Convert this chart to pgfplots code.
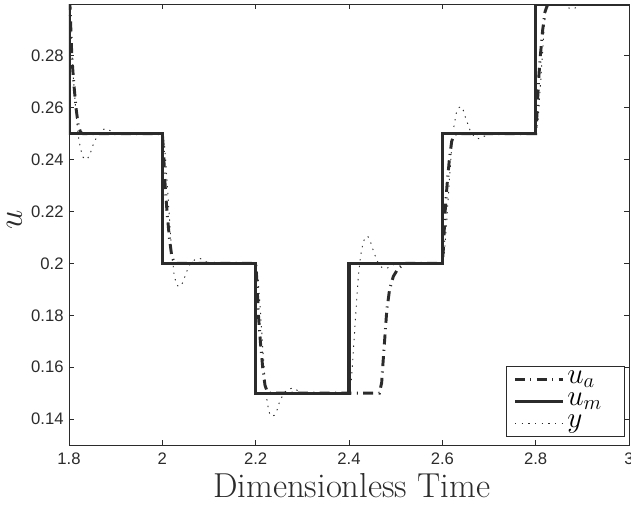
\RequirePackage{fix-cm}
\documentclass[border=0pt]{standalone}
\usepackage{fontspec}
\newfontfamily\ticksf{Liberation Sans}
\usepackage{pgfplots}
\pgfplotsset{compat=1.18}
\definecolor{lc}{HTML}{2B2B2B}
\newcommand{\lgf}{\fontsize{22}{22}\selectfont}
\begin{document}
\begin{tikzpicture}
\begin{axis}[
  scale only axis, width=420pt, height=330.75pt,
  xmin=1.8, xmax=3, ymin=0.13, ymax=0.30,
  xtick={1.8,2,2.2,2.4,2.6,2.8,3},
  xticklabels={1.8,2,2.2,2.4,2.6,2.8,3},
  ytick={0.14,0.16,0.18,0.2,0.22,0.24,0.26,0.28},
  yticklabels={0.14,0.16,0.18,0.2,0.22,0.24,0.26,0.28},
  tick align=inside, major tick length=4pt,
  axis line style={lc, line width=0.6pt},
  every tick/.style={lc, line width=0.6pt},
  ticklabel style={font=\ticksf\fontsize{12.5}{14}\selectfont, text=lc},
  xticklabel style={yshift=-2pt},
  yticklabel style={xshift=-0.5pt},
  xlabel={Dimensionless Time}, ylabel={$u$},
  label style={font=\fontsize{26}{30}\selectfont, text=lc},
  xlabel style={at={(axis description cs:0.505,0)}, anchor=base, yshift=-39pt},
  ylabel style={at={(axis description cs:0,0.51)}, anchor=center, yshift=41pt},
  legend style={at={(rel axis cs:1,0)}, anchor=south east, xshift=-3pt, yshift=6pt,
    draw=lc, line width=0.6pt, inner ysep=1.5pt, inner xsep=5pt,
    row sep=0pt, cells={anchor=west},
    nodes={inner xsep=2pt, inner ysep=1pt, text height=10pt, text depth=4.5pt}},
  legend image code/.code={\draw[#1] (0pt,0pt) -- (36pt,0pt);},
  clip=true,
]
\coordinate (SW) at (rel axis cs:0,0);
\coordinate (NE) at (rel axis cs:1,1);
% u_a (dash-dot)
\addplot[lc, line width=2.2pt, dash pattern=on 7.5pt off 4pt on 0.8pt off 4pt] coordinates {
(1.800,0.310)(1.802,0.300)(1.806,0.280)(1.810,0.270)(1.815,0.260)(1.820,0.253)(1.825,0.2505)(1.830,0.250)
(2.000,0.250)(2.002,0.245)(2.006,0.230)(2.010,0.220)(2.015,0.210)(2.020,0.203)(2.025,0.2005)(2.030,0.200)
(2.200,0.200)(2.202,0.195)(2.206,0.180)(2.210,0.170)(2.215,0.160)(2.220,0.153)(2.225,0.1505)(2.230,0.150)
(2.400,0.150)(2.465,0.150)(2.470,0.154)(2.473,0.162)(2.477,0.172)(2.481,0.182)(2.487,0.190)(2.495,0.195)(2.505,0.198)(2.520,0.200)
(2.600,0.200)(2.602,0.205)(2.606,0.220)(2.610,0.230)(2.615,0.240)(2.620,0.247)(2.625,0.2495)(2.630,0.250)
(2.800,0.250)(2.802,0.255)(2.806,0.270)(2.810,0.280)(2.815,0.290)(2.820,0.297)(2.825,0.2995)(2.830,0.300)
(3.000,0.300)
};
\addlegendentry{\lgf$u_a$}
% u_m (solid)
\addplot[lc, line width=2.4pt] coordinates {
(1.8,0.31)(1.8,0.25)(2.0,0.25)(2.0,0.2)(2.2,0.2)(2.2,0.15)(2.4,0.15)(2.4,0.2)(2.6,0.2)(2.6,0.25)(2.8,0.25)(2.8,0.3)(3.0,0.3)
};
\addlegendentry{\lgf$u_m$\hspace*{10pt}}
% y (dotted)
\addplot[lc, line width=0.7pt, dash pattern=on 1pt off 4pt] coordinates {
(1.800,0.305)(1.805,0.285)(1.810,0.270)(1.815,0.258)(1.820,0.249)(1.825,0.244)(1.830,0.241)(1.835,0.240)(1.840,0.2405)(1.845,0.242)(1.850,0.245)(1.860,0.249)(1.870,0.2515)(1.880,0.252)(1.890,0.251)(1.900,0.250)
(2.000,0.250)(2.005,0.245)(2.010,0.232)(2.015,0.218)(2.020,0.205)(2.025,0.196)(2.030,0.192)(2.035,0.191)(2.040,0.1915)(2.045,0.193)(2.050,0.196)(2.060,0.200)(2.070,0.2015)(2.080,0.202)(2.090,0.201)(2.100,0.200)
(2.200,0.200)(2.205,0.195)(2.210,0.182)(2.215,0.168)(2.220,0.155)(2.225,0.146)(2.230,0.142)(2.235,0.141)(2.240,0.1415)(2.245,0.143)(2.250,0.146)(2.260,0.150)(2.270,0.1515)(2.280,0.152)(2.290,0.151)(2.300,0.150)
(2.400,0.150)(2.405,0.155)(2.410,0.168)(2.415,0.182)(2.420,0.195)(2.425,0.203)(2.430,0.208)(2.435,0.210)(2.440,0.2105)(2.445,0.209)(2.450,0.206)(2.460,0.201)(2.470,0.1985)(2.480,0.198)(2.490,0.199)(2.500,0.200)
(2.600,0.200)(2.605,0.205)(2.610,0.218)(2.615,0.232)(2.620,0.245)(2.625,0.253)(2.630,0.258)(2.635,0.260)(2.640,0.2605)(2.645,0.259)(2.650,0.256)(2.660,0.251)(2.670,0.2485)(2.680,0.248)(2.690,0.249)(2.700,0.250)
(2.800,0.250)(2.805,0.255)(2.810,0.268)(2.815,0.282)(2.820,0.295)(2.825,0.303)(2.830,0.308)(2.835,0.310)(2.840,0.3105)(2.845,0.309)(2.850,0.306)(2.860,0.301)(2.870,0.2985)(2.880,0.298)(2.890,0.299)(2.900,0.300)
(3.000,0.300)
};
\addlegendentry{\lgf$y$}
\end{axis}
\pgfresetboundingbox
\path[use as bounding box] ([xshift=-51.75pt,yshift=-47.25pt]SW) rectangle ([xshift=1.5pt,yshift=3pt]NE);
\end{tikzpicture}
\end{document}
